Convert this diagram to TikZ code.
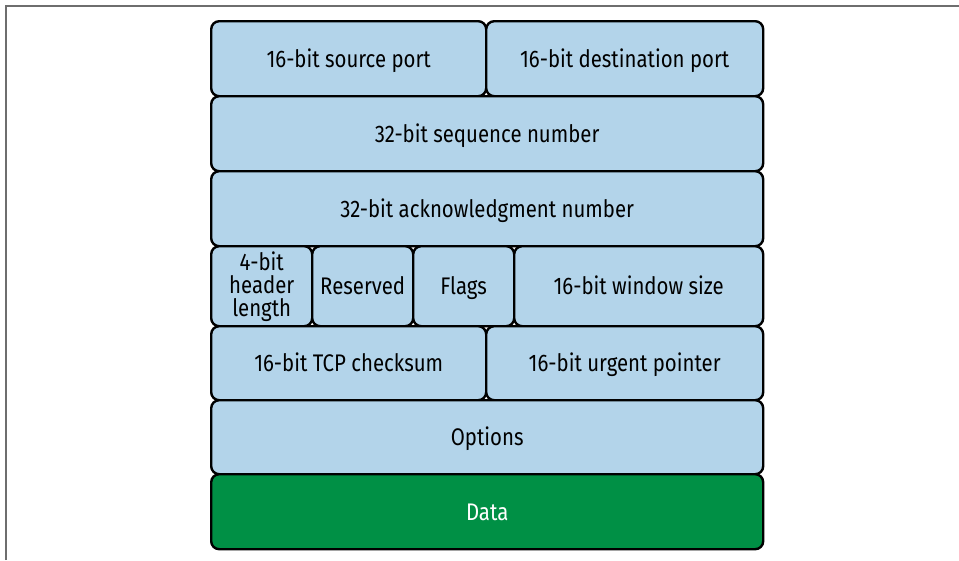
\documentclass[tikz,border=0pt]{standalone}
\usepackage{fontspec}
\setmainfont{Fira Sans}[FakeStretch=0.85]
\definecolor{hblue}{RGB}{179,212,234}
\definecolor{hgreen}{RGB}{0,144,69}
\definecolor{frame}{RGB}{110,110,110}
\begin{document}
\begin{tikzpicture}[x=1pt,y=-1pt,
  fld/.style={draw=black, line width=2.4pt, rounded corners=8pt, fill=hblue,
    inner sep=0pt, anchor=north west, align=center,
    font=\fontsize{24}{23}\selectfont, text=black},
  one/.style={text height=19.5pt, text depth=2pt},
  datafld/.style={fld, fill=hgreen, text=white}]
\useasboundingbox (0,0) rectangle (959,560);
\coordinate (fbl) at (6,560);
\coordinate (ftl) at (6,6);
\coordinate (ftr) at (959,6);
\draw[frame, line width=1.6pt] (fbl) -- (ftl) -- (ftr);
\node[fld, one, minimum width=275pt, minimum height=75pt] (src) at (210,20) {16-bit source port};
\node[fld, one, minimum width=277pt, minimum height=75pt] (dst) at (485,20) {16-bit destination port};
\node[fld, one, minimum width=552pt, minimum height=75pt] (seq) at (210,95) {32-bit sequence number};
\node[fld, one, minimum width=552pt, minimum height=75pt] (ack) at (210,170) {32-bit acknowledgment number};
\node[fld, minimum width=101pt, minimum height=80pt] (hlen) at (210,245) {4-bit\\header\\length};
\node[fld, one, minimum width=101pt, minimum height=80pt] (res) at (311,245) {Reserved};
\node[fld, one, minimum width=101pt, minimum height=80pt] (flg) at (412,245) {Flags};
\node[fld, one, minimum width=249pt, minimum height=80pt] (win) at (513,245) {16-bit window size};
\node[fld, one, minimum width=275pt, minimum height=74pt] (chk) at (210,325) {16-bit TCP checksum};
\node[fld, one, minimum width=277pt, minimum height=74pt] (urg) at (485,325) {16-bit urgent pointer};
\node[fld, one, minimum width=552pt, minimum height=74pt] (opt) at (210,399) {Options};
\node[datafld, one, minimum width=552pt, minimum height=75pt] (data) at (210,473) {Data};
\end{tikzpicture}
\end{document}
